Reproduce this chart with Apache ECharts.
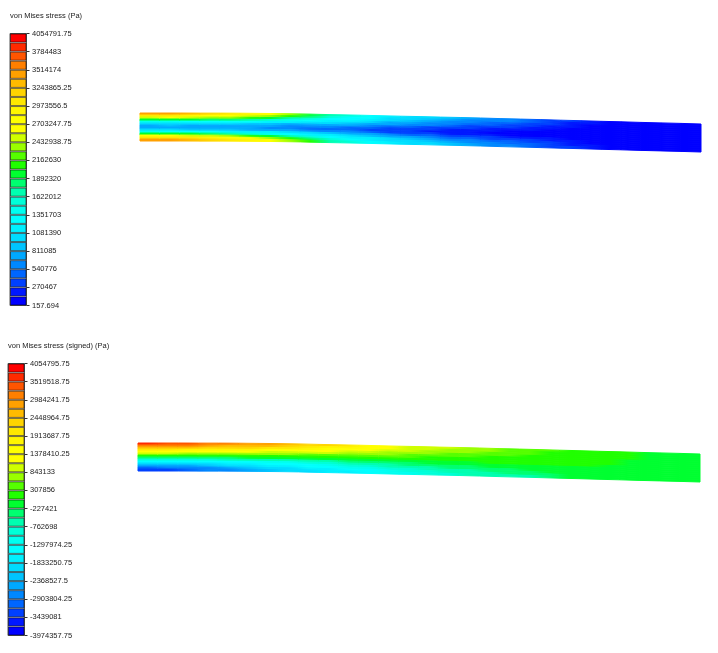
<!DOCTYPE html>
<html>
<head>
<meta charset="utf-8">
<style>
  html, body { margin: 0; padding: 0; background: #fff; }
  #main { width: 718px; height: 653px; }
</style>
<script src="https://cdn.jsdelivr.net/npm/echarts@6/dist/echarts.min.js"></script>
</head>
<body>
<div id="main"></div>
<script>
// legend tick labels, top to bottom
var vmLabels = ['4054791.75','3784483','3514174','3243865.25','2973556.5','2703247.75','2432938.75','2162630','1892320','1622012','1351703','1081390','811085','540776','270467','157.694'];
var signedLabels = ['4054795.75','3519518.75','2984241.75','2448964.75','1913687.75','1378410.25','843133','307856','-227421','-762698','-1297974.25','-1833250.75','-2368527.5','-2903804.25','-3439081','-3974357.75'];

// colour bands, lowest value first
var bandColors = ['#0000ff','#0018ff','#0040ff','#0066ff','#0088ff','#00a8ff','#00c4ff','#00dcff','#00f0ff','#00ffff','#00fff0','#00ffd8','#00ffb0','#00ff70','#00ff30','#20ff00','#55ff00','#9aff00','#cfff00','#ffff00','#ffff00','#fff500','#ffe800','#ffd400','#ffbb00','#ffa000','#ff7f00','#ff5500','#ff2a00','#ff0000'];

// range of each colour scale, MPa
var vmRange = [0.000158, 4.0548];
var signedRange = [-3.9744, 4.0548];

// positions along the beam and the beam's sag at each one
var stations = [0,20,40,60,80,100,120,140,160,180,200,220,240,260,280,300,320,340,360,380,400,420,440,460,480,500,520,540,560];
var sag = [0,0,0,0.1,0.1,0.2,0.4,0.6,0.9,1.4,1.8,2.2,2.7,3.2,3.6,4.1,4.5,5,5.6,6.1,6.6,7.2,7.7,8.3,8.8,9.4,9.9,10.4,11];
// layer edges through the thickness
var layers = [-14,-12,-10,-8,-6,-4,-2,0,2,4,6,8,10,12,14];

// von Mises, MPa, one row per cell along the beam, top layer to bottom layer
var vmField = [
  [3.4,3.0,2.5,1.9,1.4,1.0,.8,.75,.95,1.4,2.0,2.6,3.1,3.4],
  [3.5,3.0,2.6,2.0,1.4,1.0,.85,.8,.95,1.35,1.95,2.6,3.1,3.45],
  [3.3,2.9,2.5,1.9,1.35,.95,.8,.75,.9,1.3,1.9,2.5,3.0,3.3],
  [3.2,2.8,2.4,1.85,1.3,.95,.8,.7,.85,1.25,1.85,2.45,2.9,3.2],
  [3.1,2.8,2.3,1.8,1.25,.95,.75,.7,.85,1.2,1.75,2.35,2.8,3.1],
  [2.85,2.55,2.15,1.65,1.25,.9,.7,.7,.8,1.15,1.6,2.15,2.6,2.9],
  [2.6,2.3,1.95,1.5,1.2,.85,.7,.65,.75,1.1,1.45,1.95,2.35,2.65],
  [2.3,2.05,1.75,1.4,1.15,.8,.65,.6,.7,1.0,1.35,1.75,2.1,2.35],
  [2.0,1.8,1.5,1.25,1.05,.8,.6,.5,.65,.95,1.2,1.55,1.8,2.05],
  [1.75,1.55,1.35,1.2,1.0,.75,.55,.5,.6,.85,1.1,1.35,1.6,1.75],
  [1.5,1.35,1.25,1.1,.9,.7,.5,.45,.55,.8,1.0,1.2,1.35,1.5],
  [1.3,1.25,1.15,.95,.8,.65,.45,.4,.5,.7,.9,1.1,1.2,1.3],
  [1.15,1.05,.95,.8,.7,.5,.35,.3,.4,.6,.8,.95,1.05,1.15],
  [1.05,.95,.85,.75,.6,.45,.35,.3,.35,.5,.7,.85,.95,1.05],
  [.95,.85,.75,.65,.55,.4,.3,.25,.3,.45,.6,.75,.85,.95],
  [.85,.75,.65,.55,.45,.35,.25,.2,.25,.4,.5,.65,.75,.85],
  [.75,.65,.6,.5,.4,.3,.2,.15,.2,.35,.45,.55,.65,.75],
  [.65,.6,.5,.45,.35,.25,.15,.1,.15,.3,.4,.5,.6,.65],
  [.6,.55,.45,.4,.3,.2,.1,.05,.1,.25,.35,.45,.5,.6],
  [.5,.45,.4,.3,.25,.15,.1,.05,.1,.2,.3,.4,.45,.5],
  [.4,.35,.3,.25,.15,.1,.05,.05,.1,.15,.25,.3,.35,.4],
  [.3,.25,.2,.15,.1,.05,.05,.05,.05,.1,.15,.2,.25,.3],
  [.15,.15,.1,.05,.05,.05,.05,.05,.05,.05,.1,.1,.15,.15],
  [.05,.05,.05,.05,.05,.05,.05,.05,.05,.05,.05,.05,.05,.05],
  [.05,.05,.05,.05,.05,.05,.05,.05,.05,.05,.05,.05,.05,.05],
  [.05,.05,.05,.05,.05,.05,.05,.05,.05,.05,.05,.05,.05,.05],
  [.05,.05,.05,.05,.05,.05,.05,.05,.05,.05,.05,.05,.05,.05],
  [.05,.05,.05,.05,.05,.05,.05,.05,.05,.05,.05,.05,.05,.05]
];

// signed von Mises, MPa, same layout
var signedField = [
  [3.6,3.2,2.6,2.0,1.4,.9,.3,-.3,-.9,-1.5,-2.0,-2.5,-3,-3.3],
  [3.5,3.1,2.6,2.0,1.4,.85,.3,-.3,-.9,-1.5,-2.0,-2.5,-2.9,-3.2],
  [3.4,3.0,2.5,1.9,1.3,.8,.25,-.3,-.85,-1.45,-1.95,-2.4,-2.8,-3.1],
  [3.2,2.9,2.4,1.85,1.3,.75,.2,-.3,-.8,-1.4,-1.85,-2.3,-2.7,-2.9],
  [3.0,2.7,2.3,1.8,1.2,.7,.2,-.25,-.75,-1.35,-1.75,-2.1,-2.4,-2.75],
  [2.9,2.6,2.2,1.7,1.15,.65,.2,-.2,-.7,-1.3,-1.65,-1.95,-2.25,-2.5],
  [2.75,2.5,2.1,1.6,1.1,.6,.2,-.2,-.65,-1.25,-1.55,-1.8,-2.1,-2.3],
  [2.6,2.35,2.0,1.5,1.05,.6,.15,-.2,-.6,-1.1,-1.4,-1.65,-1.9,-2.1],
  [2.4,2.1,1.8,1.4,1.0,.55,.15,-.2,-.55,-1.0,-1.35,-1.5,-1.75,-1.9],
  [2.2,1.9,1.6,1.3,.9,.5,.15,-.15,-.5,-.9,-1.2,-1.4,-1.6,-1.75],
  [1.95,1.7,1.45,1.1,.8,.45,.15,-.15,-.4,-.75,-1.0,-1.25,-1.45,-1.6],
  [1.6,1.45,1.2,.95,.7,.4,.15,-.1,-.35,-.6,-.85,-1.1,-1.3,-1.4],
  [1.3,1.15,.95,.8,.6,.4,.2,-.1,-.3,-.5,-.7,-.95,-1.1,-1.2],
  [1.1,1.0,.85,.7,.5,.35,.15,-.05,-.25,-.45,-.6,-.8,-.95,-1.05],
  [.95,.85,.75,.6,.45,.3,.15,-.05,-.2,-.35,-.5,-.7,-.85,-.95],
  [.85,.75,.65,.5,.4,.25,.15,0,-.15,-.3,-.45,-.6,-.75,-.85],
  [.75,.7,.6,.45,.35,.25,.15,0,-.15,-.25,-.4,-.5,-.65,-.75],
  [.65,.6,.5,.4,.3,.2,.15,.05,-.1,-.2,-.3,-.45,-.55,-.65],
  [.55,.5,.45,.4,.25,.2,.15,.05,-.05,-.15,-.25,-.35,-.45,-.55],
  [.45,.4,.35,.3,.2,.15,.15,.05,-.05,-.1,-.2,-.3,-.4,-.5],
  [.35,.3,.25,.2,.15,.15,.1,.05,0,-.05,-.15,-.2,-.3,-.4],
  [.25,.2,.15,.15,.15,.1,.1,.05,0,-.05,-.1,-.15,-.2,-.2],
  [.15,.15,.15,.15,.1,.1,.05,.05,0,0,-.05,-.05,-.1,-.1],
  [.15,.15,.15,.1,.1,.05,.05,0,0,0,0,0,0,0],
  [.1,.1,.05,.05,0,0,0,0,0,0,0,0,0,0],
  [0,0,0,0,0,0,0,0,0,0,0,0,0,0],
  [0,0,0,0,0,0,0,0,0,0,0,0,0,0],
  [0,0,0,0,0,0,0,0,0,0,0,0,0,0]
];

var textColor = '#222';
var fontName = '"Liberation Sans", Arial, sans-serif';
var fontSize = 7.5;

function bandColor(v, range) {
  var i = Math.floor((v - range[0]) / (range[1] - range[0]) * bandColors.length);
  return bandColors[Math.max(0, Math.min(bandColors.length - 1, i))];
}

// one coloured quad per cell, bent along the sagging beam
function fieldSeries(field, range, axisIndex) {
  var cells = [];
  field.forEach(function (row, c) {
    row.forEach(function (v, l) {
      cells.push([c, l, v]);
    });
  });
  return {
    type: 'custom',
    xAxisIndex: axisIndex,
    yAxisIndex: axisIndex,
    silent: true,
    animation: false,
    data: cells,
    renderItem: function (params, api) {
      var c = api.value(0), l = api.value(1);
      var here = bandColor(api.value(2), range);
      var before = c > 0 ? bandColor(field[c - 1][l], range) : here;
      var after = c < field.length - 1 ? bandColor(field[c + 1][l], range) : here;
      // blend to the neighbours so the cell ends don't show as steps
      var fill = new echarts.graphic.LinearGradient(0, 0, 1, 0, [
        { offset: 0, color: echarts.color.lerp(0.5, [before, here]) },
        { offset: 0.5, color: here },
        { offset: 1, color: echarts.color.lerp(0.5, [here, after]) }
      ]);
      return {
        type: 'polygon',
        shape: {
          points: [
            api.coord([stations[c], sag[c] + layers[l]]),
            api.coord([stations[c + 1], sag[c + 1] + layers[l]]),
            api.coord([stations[c + 1], sag[c + 1] + layers[l + 1]]),
            api.coord([stations[c], sag[c] + layers[l + 1]])
          ]
        },
        style: { fill: fill, stroke: fill, lineWidth: 1 }
      };
    }
  };
}

// colour bar as a stack of 30 equal bars
function legendSeries(axisIndex) {
  return bandColors.map(function (color) {
    return {
      type: 'bar',
      stack: 'legend' + axisIndex,
      xAxisIndex: axisIndex,
      yAxisIndex: axisIndex,
      barWidth: '100%',
      silent: true,
      animation: false,
      data: [1],
      itemStyle: { color: color, borderColor: 'rgba(0,0,0,0.55)', borderWidth: 1 }
    };
  });
}

function legendYAxis(gridIndex, labels) {
  return {
    type: 'value',
    gridIndex: gridIndex,
    position: 'right',
    min: 0,
    max: 30,
    interval: 2,
    splitLine: { show: false },
    axisLine: { show: false },
    axisTick: { show: true, length: 3, lineStyle: { color: '#333' } },
    axisLabel: {
      color: textColor,
      fontFamily: fontName,
      fontSize: fontSize,
      margin: 5.5,
      formatter: function (v) { return labels[labels.length - 1 - v / 2]; }
    }
  };
}

function fieldYAxis(gridIndex) {
  return { type: 'value', gridIndex: gridIndex, show: false, inverse: true, min: -27, max: 33, splitLine: { show: false } };
}

function fieldXAxis(gridIndex) {
  return { type: 'value', gridIndex: gridIndex, show: false, min: 0, max: 560, splitLine: { show: false } };
}

function legendXAxis(gridIndex) {
  return { type: 'category', gridIndex: gridIndex, show: false, data: ['band'] };
}

var myChart = echarts.init(document.getElementById('main'));

var option = {
  backgroundColor: '#fff',
  animation: false,
  title: [
    { text: 'von Mises stress (Pa)', left: 10, top: 12, padding: 0, textStyle: { color: textColor, fontFamily: fontName, fontSize: fontSize, fontWeight: 'normal' } },
    { text: 'von Mises stress (signed) (Pa)', left: 8, top: 342, padding: 0, textStyle: { color: textColor, fontFamily: fontName, fontSize: fontSize, fontWeight: 'normal' } }
  ],
  grid: [
    { left: 10, top: 33.5, width: 16.5, height: 272, show: true, borderColor: '#555', borderWidth: 1, backgroundColor: 'transparent' },
    { left: 140, top: 100, width: 561, height: 60 },
    { left: 8, top: 363.5, width: 16.5, height: 272, show: true, borderColor: '#555', borderWidth: 1, backgroundColor: 'transparent' },
    { left: 138, top: 430, width: 562, height: 60 }
  ],
  xAxis: [legendXAxis(0), fieldXAxis(1), legendXAxis(2), fieldXAxis(3)],
  yAxis: [legendYAxis(0, vmLabels), fieldYAxis(1), legendYAxis(2, signedLabels), fieldYAxis(3)],
  series: legendSeries(0)
    .concat(legendSeries(2))
    .concat([fieldSeries(vmField, vmRange, 1), fieldSeries(signedField, signedRange, 3)])
};

myChart.setOption(option);
</script>
</body>
</html>
